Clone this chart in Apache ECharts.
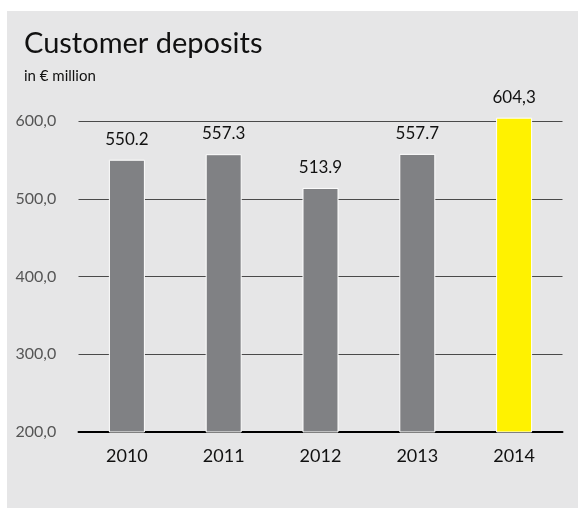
<!DOCTYPE html>
<html>
<head>
<meta charset="utf-8">
<script src="https://cdn.jsdelivr.net/npm/echarts@6/dist/echarts.min.js"></script>
<style>
  html, body { margin: 0; padding: 0; background: #ffffff; }
  #chart { width: 578px; height: 509px; }
</style>
</head>
<body>
<div id="chart"></div>
<script>
// Customer deposits per year, in € million
const years = ['2010', '2011', '2012', '2013', '2014'];
const deposits = [550.2, 557.3, 513.9, 557.7, 604.3];
const valueLabels = ['550.2', '557.3', '513.9', '557.7', '604,3'];
const yTicks = [200, 300, 400, 500, 600];
const yTickLabels = ['200,0', '300,0', '400,0', '500,0', '600,0'];

const FONT = 'Lato, "Open Sans", sans-serif';
const GREY_BAR = '#808184';
const HIGHLIGHT_BAR = '#fff200';

// one extra (hidden) step above the last tick gives the tallest bar headroom
const STEP = 100;
const PX_PER_STEP = 77.75;

const chart = echarts.init(document.getElementById('chart'), null, { renderer: 'canvas' });

chart.setOption({
  backgroundColor: '#ffffff',
  animation: false,
  graphic: [
    {
      type: 'rect',
      z: -10,
      shape: { x: 7, y: 11, width: 571, height: 497 },
      style: { fill: '#e6e6e7' }
    },
    {
      type: 'text',
      left: 24, top: 29,
      style: { text: 'Customer deposits', font: '400 29px ' + FONT, fill: '#111111' }
    },
    {
      type: 'text',
      left: 24, top: 69,
      style: { text: 'in € million', font: '400 15px ' + FONT, fill: '#111111' }
    }
  ],
  grid: { left: 78.5, right: 15.5, top: 121 - PX_PER_STEP, bottom: 77 },
  xAxis: {
    type: 'category',
    data: years,
    axisLine: { show: true, lineStyle: { color: '#000000', width: 2 } },
    axisTick: { show: false },
    axisLabel: { color: '#111111', fontSize: 18, fontFamily: FONT, margin: 15 }
  },
  yAxis: {
    type: 'value',
    min: yTicks[0],
    max: yTicks[yTicks.length - 1] + STEP,
    interval: STEP,
    axisLine: { show: false },
    axisTick: { show: false },
    splitLine: { show: true, showMaxLine: false, lineStyle: { color: '#4a4a4a', width: 1 } },
    axisLabel: {
      color: '#555555', fontSize: 16, fontFamily: FONT,
      align: 'left', margin: 63,
      showMaxLabel: false,
      formatter: v => {
        const i = yTicks.indexOf(v);
        return i < 0 ? '' : yTickLabels[i];
      }
    }
  },
  series: [{
    type: 'bar',
    barWidth: 36,
    data: deposits.map((v, i) => ({
      value: v,
      itemStyle: { color: i === deposits.length - 1 ? HIGHLIGHT_BAR : GREY_BAR }
    })),
    itemStyle: { borderColor: '#ffffff', borderWidth: 1 },
    label: {
      show: true,
      position: 'top',
      distance: 12,
      color: '#111111',
      fontSize: 17,
      fontFamily: FONT,
      formatter: p => valueLabels[p.dataIndex]
    }
  }]
});
</script>
</body>
</html>
